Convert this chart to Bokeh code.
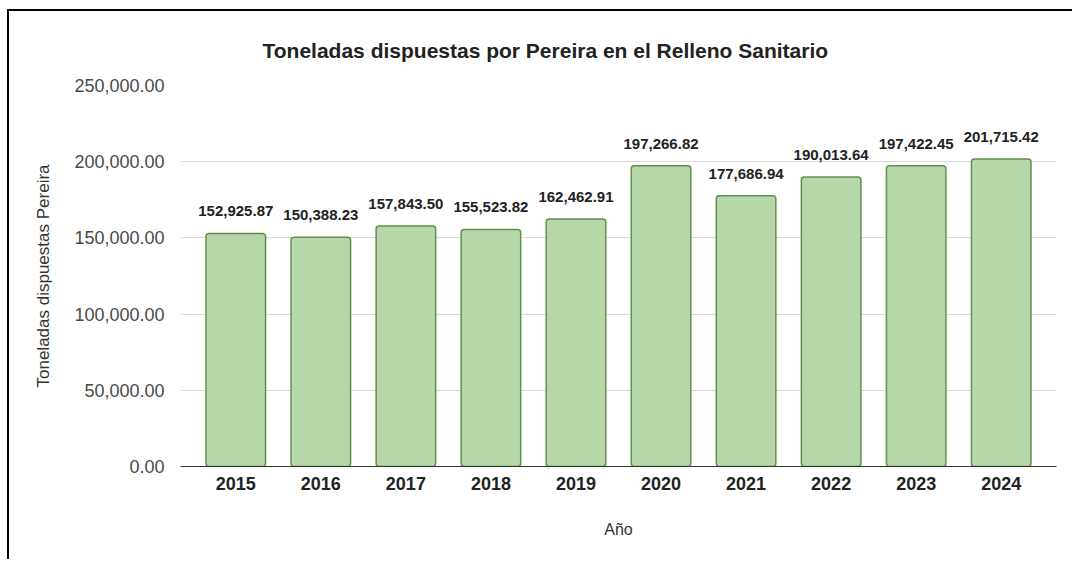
from bokeh.plotting import figure
from bokeh.models import ColumnDataSource, FactorRange, NumeralTickFormatter, FixedTicker, Range1d, Title
from bokeh.core.properties import value
from bokeh.embed import file_html
from bokeh.resources import INLINE

years = ["2015", "2016", "2017", "2018", "2019", "2020", "2021", "2022", "2023", "2024"]
toneladas = [152925.87, 150388.23, 157843.50, 155523.82, 162462.91,
             197266.82, 177686.94, 190013.64, 197422.45, 201715.42]
y_ticks = [0, 50000, 100000, 150000, 200000, 250000]

labels = [f"{v:,.2f}" for v in toneladas]
src = ColumnDataSource(dict(x=years, y=toneladas, lab=labels))

FONT = "Liberation Sans"

p = figure(width=1065, height=550, output_backend="svg", toolbar_location=None,
           x_range=FactorRange(*years, range_padding=0.03),
           y_range=Range1d(0, 250000),
           min_border_left=171, min_border_right=18, min_border_top=74, min_border_bottom=95)
p.styles = {"border-left": "2px solid black", "border-top": "2px solid black",
            "margin-left": "7px", "margin-top": "9px"}

t = Title(text="Toneladas dispuestas por Pereira  en el Relleno Sanitario",
          align="left", offset=82, standoff=46, vertical_align="middle",
          text_font=FONT, text_font_size="21px", text_font_style="bold", text_color="#222222")
p.add_layout(t, "above")

p.vbar(x="x", top="y", width=0.7, source=src, fill_color="#b6d7a8",
       line_color="#62904c", line_width=1.5, border_radius=3)
p.text(x="x", y="y", text="lab", source=src, text_align="center", text_baseline="middle",
       y_offset=-22, text_font_size="15px", text_font_style="bold", text_color="#222222",
       text_font=value(FONT))

p.outline_line_color = None
p.xgrid.grid_line_color = None
p.ygrid.grid_line_color = "#d9d9d9"
p.ygrid.ticker = FixedTicker(ticks=y_ticks)

ya = p.yaxis[0]
ya.ticker = FixedTicker(ticks=y_ticks)
ya.formatter = NumeralTickFormatter(format="0,0.00")
ya.axis_line_color = None
ya.major_tick_line_color = None
ya.minor_tick_line_color = None
ya.major_label_standoff = 10
ya.major_label_text_font = FONT
ya.major_label_text_font_size = "18px"
ya.major_label_text_color = "#4a4a4a"
ya.axis_label = "Toneladas dispuestas Pereira"
ya.axis_label_text_font = FONT
ya.axis_label_text_font_size = "17px"
ya.axis_label_text_font_style = "normal"
ya.axis_label_text_color = "#333333"
ya.axis_label_standoff = 18

xa = p.xaxis[0]
xa.axis_line_color = "#333333"
xa.major_tick_line_color = None
xa.minor_tick_line_color = None
xa.major_label_standoff = 4
xa.major_label_text_font = FONT
xa.major_label_text_font_size = "18px"
xa.major_label_text_font_style = "bold"
xa.major_label_text_color = "#222222"
xa.axis_label = "Año"
xa.axis_label_text_font = FONT
xa.axis_label_text_font_size = "16px"
xa.axis_label_text_font_style = "normal"
xa.axis_label_text_color = "#333333"
xa.axis_label_standoff = 28

open("out.html", "w").write(file_html(p, INLINE))
